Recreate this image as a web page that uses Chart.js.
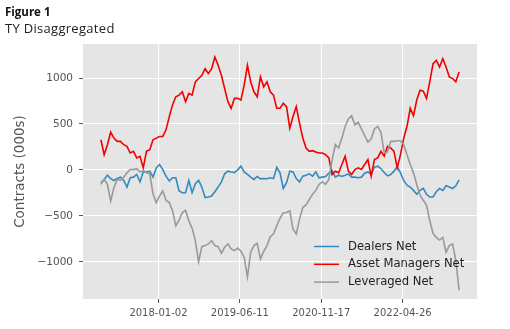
<!DOCTYPE html>
<html>
<head>
<meta charset="utf-8">
<script src="https://cdn.jsdelivr.net/npm/chart.js@4"></script>
<style>
  body { margin: 0; background: #fff; }
  #wrap { position: relative; width: 510px; height: 329px; }
  #fig { position: absolute; left: 5px; top: 4px; font-family: "Open Sans", sans-serif; font-weight: 700; font-size: 11.5px; color: #111; }
  #sub { position: absolute; left: 5px; top: 19px; font-family: "Open Sans", sans-serif; font-size: 13px; color: #222; letter-spacing: 0.3px; }
  canvas { position: absolute; left: 0; top: 0; }
</style>
</head>
<body>
<div id="wrap">
  <canvas id="myChart" width="510" height="329"></canvas>
  <div id="fig">Figure 1</div>
  <div id="sub">TY Disaggregated</div>
</div>
<script>
// weekly positioning report, one sample every 3 weeks
const weekStep = 3
const dealersNet = [
  -140,-104,-58,-94,-115,-94,-79,-115,-187,-86,
  -79,-50,-130,-22,-22,-14,-79,22,58,4,
  -68,-122,-86,-86,-230,-248,-248,-115,-248,-151,
  -115,-187,-302,-295,-284,-238,-187,-130,-43,-14,
  -22,-29,0,40,-22,-50,-79,-104,-72,-97,
  -94,-97,-86,-94,29,-32,-202,-140,-14,-22,
  -94,-130,-68,-58,-43,-68,-22,-86,-79,-72,
  -36,-7,-79,-58,-72,-58,-43,-79,-79,-86,
  -79,-36,-22,-50,29,40,14,-29,-65,-50,
  -14,36,-32,-115,-166,-187,-223,-266,-223,-202,
  -266,-295,-295,-238,-202,-223,-173,-187,-202,-173,
  -108
]
const assetManagersNet = [
  328,166,274,410,346,310,310,274,256,184,
  202,130,148,22,202,220,328,346,364,364,
  436,580,706,796,814,850,742,832,814,958,
  994,1030,1102,1048,1102,1228,1138,1030,886,742,
  670,778,778,760,922,1138,958,850,796,1012,
  904,958,850,814,670,670,724,688,454,580,
  688,508,346,238,202,209,194,184,184,166,
  130,-50,-14,-32,58,148,-14,-50,4,22,
  4,58,112,-68,112,130,202,148,256,238,
  202,22,166,346,472,670,590,760,868,857,
  778,958,1156,1192,1120,1210,1120,1012,994,958,
  1066
]
const leveragedNet = [
  -158,-104,-158,-338,-194,-104,-115,-79,-32,4,
  4,14,-22,-7,-32,-43,-259,-356,-284,-230,
  -331,-356,-446,-608,-547,-464,-439,-554,-634,-770,
  -1000,-835,-824,-806,-770,-824,-835,-907,-842,-806,
  -860,-878,-850,-886,-950,-1166,-896,-824,-799,-968,
  -886,-824,-727,-698,-608,-526,-468,-464,-446,-644,
  -698,-536,-410,-382,-320,-266,-223,-158,-130,-158,
  -104,112,274,238,346,472,554,590,490,518,
  446,374,302,338,446,472,410,184,194,310,
  310,317,317,274,166,58,-32,-158,-274,-331,
  -382,-554,-691,-734,-763,-734,-896,-824,-806,-986,
  -1310
]
const tickWeeks = [53, 128, 203, 278]
const tickLabels = ["2018-01-02", "2019-06-11", "2020-11-17", "2022-04-26"]
const yTicks = [-1000, -500, 0, 500, 1000]

function toPoints(values) {
  var pts = []
  for (var i = 0; i < values.length; i++) {
    pts.push({ x: i * weekStep, y: values[i] })
  }
  return pts
}

const lastWeek = (dealersNet.length - 1) * weekStep
const margin = lastWeek * 0.05

// grey panel behind the lines (ggplot look)
const panelBg = {
  id: "panelBg",
  beforeDraw(chart) {
    const a = chart.chartArea
    const ctx = chart.ctx
    ctx.save()
    ctx.fillStyle = "#E5E5E5"
    ctx.fillRect(a.left, a.top, a.right - a.left, a.bottom - a.top)
    ctx.restore()
  }
}

// legend sitting inside the plot, lower right
const innerLegend = {
  id: "innerLegend",
  afterDraw(chart) {
    const a = chart.chartArea
    const ctx = chart.ctx
    const items = [0, 1, 2].map(i => chart.data.datasets[i])
    ctx.save()
    ctx.font = "11.6px 'DejaVu Sans'"
    ctx.textBaseline = "middle"
    items.forEach((ds, k) => {
      const y = a.bottom - 52.5 + k * 17.8
      ctx.strokeStyle = ds.borderColor
      ctx.lineWidth = 1.5
      ctx.beginPath()
      ctx.moveTo(a.right - 163, y)
      ctx.lineTo(a.right - 138, y)
      ctx.stroke()
      ctx.fillStyle = "#222"
      ctx.fillText(ds.label, a.right - 129, y)
    })
    ctx.restore()
  }
}

const config = {
  type: "line",
  data: {
    datasets: [
      { label: "Dealers Net", data: toPoints(dealersNet), borderColor: "#348ABD", order: 2 },
      { label: "Asset Managers Net", data: toPoints(assetManagersNet), borderColor: "#F20000", order: 1 },
      { label: "Leveraged Net", data: toPoints(leveragedNet), borderColor: "#999999", order: 0 }
    ]
  },
  options: {
    responsive: false,
    animation: false,
    parsing: false,
    layout: { padding: { left: 0, top: 44, right: 33, bottom: 0 } },
    elements: {
      line: { borderWidth: 1.6, tension: 0 },
      point: { radius: 0 }
    },
    plugins: { legend: { display: false }, tooltip: { enabled: false } },
    scales: {
      x: {
        type: "linear",
        min: -margin,
        max: lastWeek + margin,
        border: { display: false },
        grid: { color: "#FFFFFF", lineWidth: 1, tickLength: 4, tickColor: "#555555" },
        afterBuildTicks: (scale) => { scale.ticks = tickWeeks.map(v => ({ value: v })) },
        afterFit: (scale) => { scale.height = 30 },
        ticks: {
          autoSkip: false,
          maxRotation: 0,
          padding: 4,
          color: "#555555",
          font: { family: "DejaVu Sans", size: 10 },
          callback: (value) => tickLabels[tickWeeks.indexOf(value)]
        }
      },
      y: {
        min: -1405,
        max: 1370,
        border: { display: false },
        grid: { color: "#FFFFFF", lineWidth: 1, tickLength: 4, tickColor: "#555555" },
        afterBuildTicks: (scale) => { scale.ticks = yTicks.map(v => ({ value: v })) },
        afterFit: (scale) => { scale.width = 83 },
        ticks: {
          padding: 6,
          color: "#555555",
          font: { family: "DejaVu Sans", size: 10.5 },
          callback: (value) => String(value).replace("-", "\u2212")
        },
        title: {
          display: true,
          text: "Contracts (000s)",
          color: "#555555",
          font: { family: "DejaVu Sans", size: 13.5 },
          padding: { top: 12, bottom: 0 }
        }
      }
    }
  },
  plugins: [panelBg, innerLegend]
}

const chartDOM = document.getElementById("myChart")
const myChart = new Chart(chartDOM, config)
</script>
</body>
</html>
